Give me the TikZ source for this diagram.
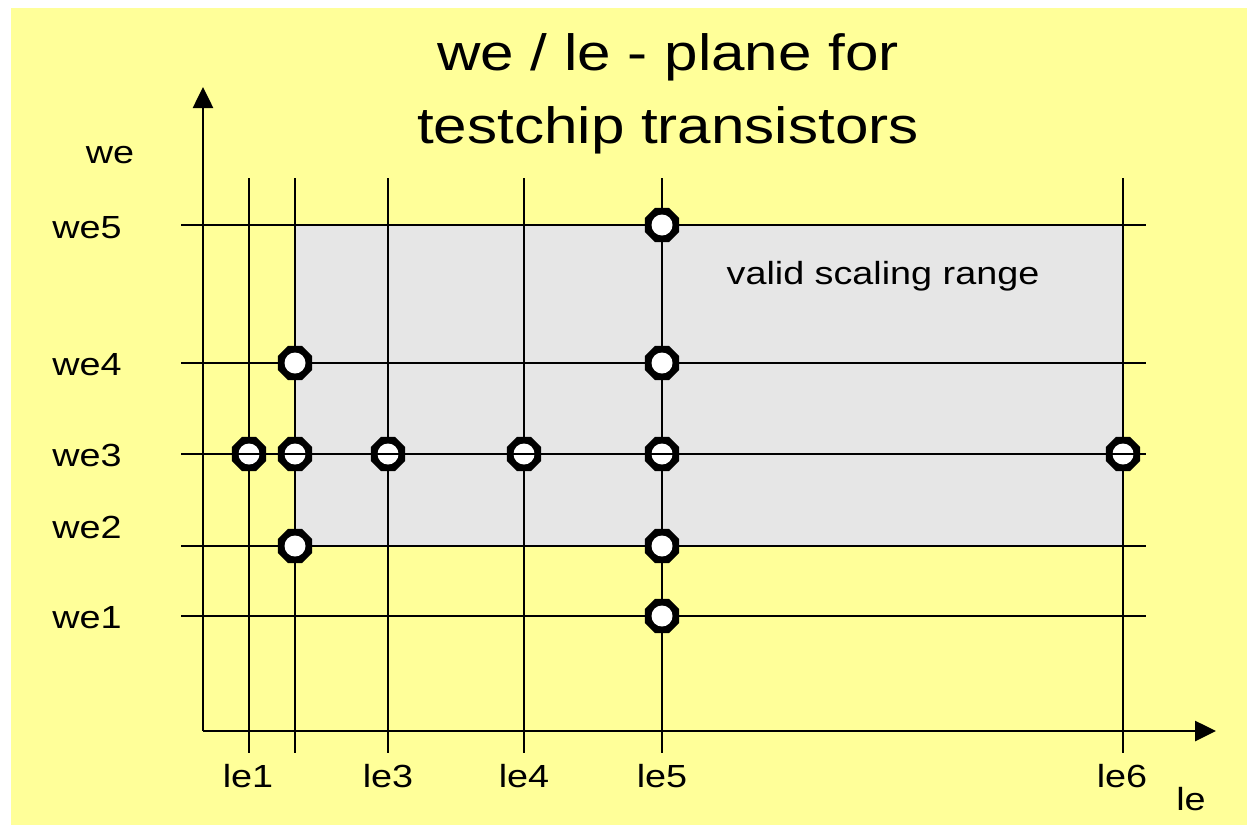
\documentclass[tikz,border=0pt]{standalone}
\usepackage{fontspec}
\setmainfont{Liberation Sans}[FakeStretch=1.18]
\usetikzlibrary{shapes.geometric,arrows.meta}
\definecolor{bgyellow}{HTML}{FFFF99}
\definecolor{rangegray}{HTML}{E6E6E6}
\begin{document}
\begin{tikzpicture}[x=1pt,y=-1pt,
  gridline/.style={line width=2.3pt},
  axisline/.style={line width=2.6pt,-{Triangle[length=21pt,width=20pt]}},
  lbl/.style={font=\fontsize{32}{38}\selectfont, inner sep=0pt, anchor=base},
  titletext/.style={font=\fontsize{51}{60}\selectfont, inner sep=0pt, anchor=base},
  mk/.style={regular polygon, regular polygon sides=8, fill=black, minimum size=37pt, inner sep=0pt}]
\useasboundingbox (0,0) rectangle (1247,825);
\fill[white] (0,0) rectangle (1247,825);
\fill[bgyellow] (11,8) rectangle (1247,825);
% valid range
\fill[rangegray] (295,225) rectangle (1123,546);
% coordinates of grid
\foreach \n/\x in {1/249,2/295,3/388,4/524,5/662,6/1123}{
  \coordinate (vt\n) at (\x,178);
  \coordinate (vb\n) at (\x,753);
}
\foreach \n/\y in {1/616,2/546,3/454,4/363,5/225}{
  \coordinate (hl\n) at (181,\y);
  \coordinate (hr\n) at (1146,\y);
}
% grid lines
\foreach \n in {1,...,6}{ \draw[gridline] (vt\n) -- (vb\n); }
\foreach \n in {1,2,4,5}{ \draw[gridline] (hl\n) -- (hr\n); }
% axes
\coordinate (origin) at (203,731);
\coordinate (ytip) at (203,87);
\coordinate (xtip) at (1216,731);
\draw[axisline] (origin) -- (ytip);
\draw[axisline] (origin) -- (xtip);
% markers
\foreach \c/\r in {5/5, 2/4, 5/4, 1/3, 2/3, 3/3, 4/3, 5/3, 6/3, 2/2, 5/2, 5/1}{
  \node[mk] (m\c\r) at (vt\c |- hl\r) {};
  \fill[white] (m\c\r.center) circle (10.5pt);
}
\draw[gridline] (hl3) -- (hr3);
% labels
\node[titletext] (title1) at (668,70) {we / le - plane for};
\node[titletext] (title2) at (668,143) {testchip transistors};
\node[lbl] (weaxis) at (110,163) {we};
\node[lbl] (leaxis) at (1191,810) {le};
\node[lbl] (we5) at (87,238) {we5};
\node[lbl] (we4) at (87,375) {we4};
\node[lbl] (we3) at (87,466) {we3};
\node[lbl] (we2) at (87,538) {we2};
\node[lbl] (we1) at (87,628) {we1};
\node[lbl] (le1) at (248,787) {le1};
\node[lbl] (le3) at (388,787) {le3};
\node[lbl] (le4) at (524,787) {le4};
\node[lbl] (le5) at (662,787) {le5};
\node[lbl] (le6) at (1122,787) {le6};
\node[lbl] (range) at (883,284) {valid scaling range};
\end{tikzpicture}
\end{document}
